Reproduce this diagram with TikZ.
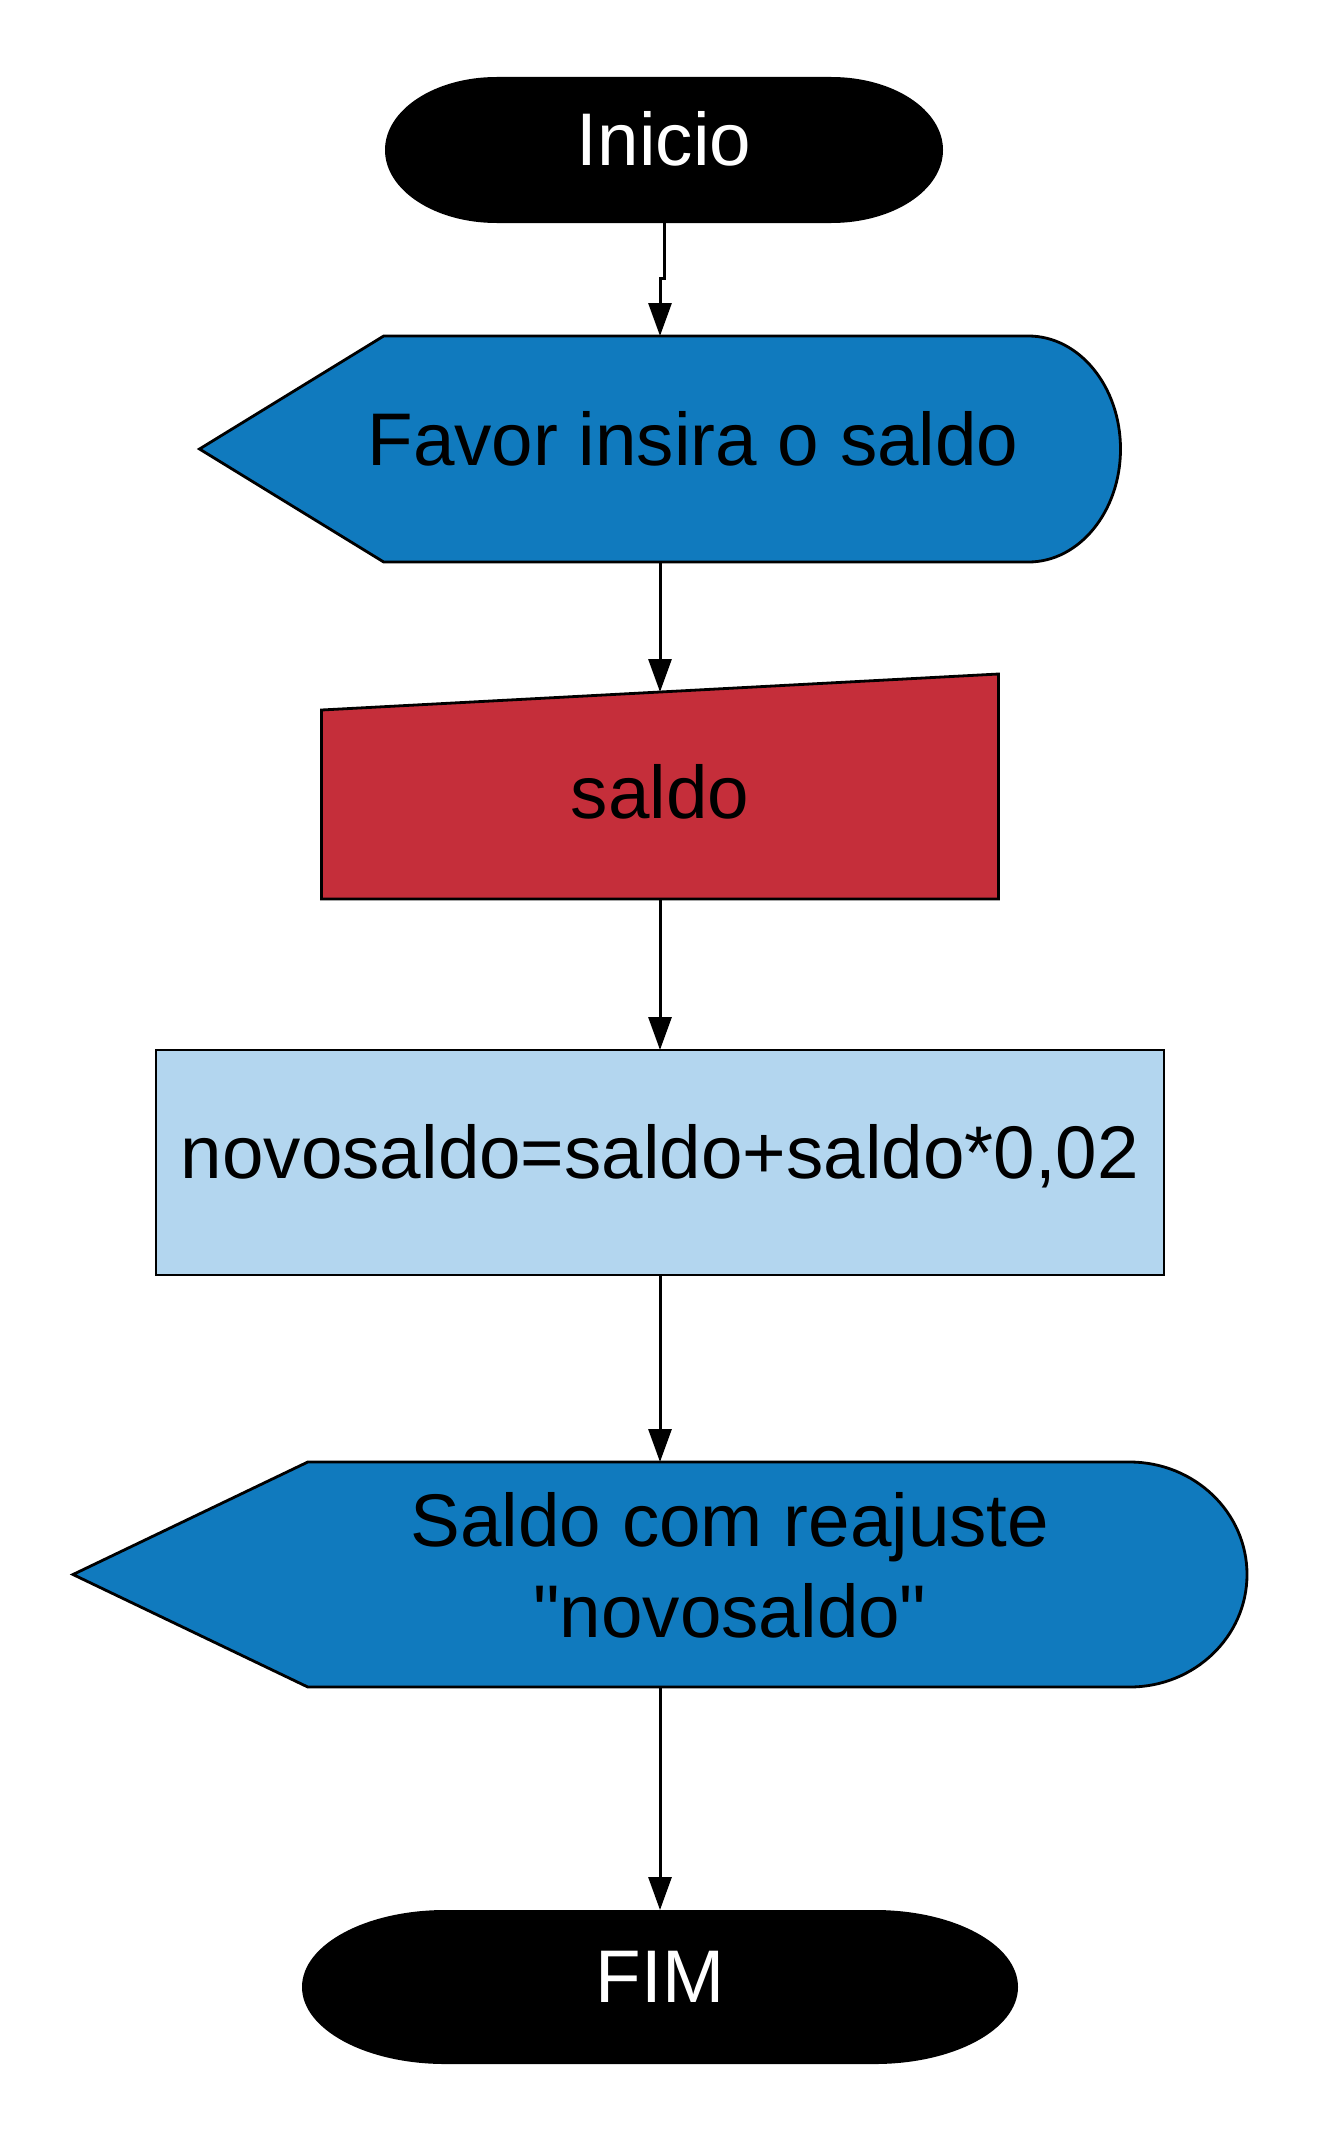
\documentclass[tikz,border=0pt]{standalone}
\usepackage{fontspec}
\setmainfont{Liberation Sans}[Ligatures=TeXOff]
\usetikzlibrary{arrows.meta,calc,backgrounds}
\definecolor{dispblue}{HTML}{107ABE}
\definecolor{inred}{HTML}{C52E3A}
\definecolor{proclight}{HTML}{B3D6EF}
\begin{document}
\begin{tikzpicture}[x=1pt,y=-1pt,
  big/.style={font=\fontsize{74.6}{91}\selectfont},
  shapebox/.style={inner sep=0pt, outer sep=0pt},
  termtext/.style={big, text=white, text height=53pt, text depth=22pt},
  lbl/.style={big, anchor=base, inner sep=0pt},
  outl/.style={draw=black, line width=2.8pt, line join=miter},
  arr/.style={line width=3pt, -{Triangle[length=33pt,width=23pt]}}]
\useasboundingbox (0,0) rectangle (1322,2138);

\node[shapebox, termtext, minimum width=558pt, minimum height=146pt] (inicio) at (664,150) {Inicio};
\node[shapebox, minimum width=921pt, minimum height=226pt] (favor) at (660,449) {};
\node[shapebox, minimum width=677pt, minimum height=225pt] (saldoin) at (660,786.5) {};
\node[shapebox, big, outl, fill=proclight, text height=53pt, text depth=22pt,
      minimum width=1008pt, minimum height=225pt] (proc) at (660,1162.5) {novosaldo=saldo+saldo*0,02};
\node[shapebox, minimum width=1174pt, minimum height=225pt] (disp2) at (660,1574.5) {};
\node[shapebox, termtext, minimum width=716pt, minimum height=154pt] (fim) at (660,1987) {FIM};

\begin{scope}[on background layer]
  \fill[white] (0,0) rectangle (1322,2138);
  \fill[black] ($(inicio.north west)+(111.6,0)$) -- ($(inicio.north east)+(-111.6,0)$)
     arc[start angle=90,end angle=-90,x radius=111.6pt,y radius=73pt]
     -- ($(inicio.south west)+(111.6,0)$)
     arc[start angle=270,end angle=90,x radius=111.6pt,y radius=73pt] -- cycle;
  \fill[black] ($(fim.north west)+(143.2,0)$) -- ($(fim.north east)+(-143.2,0)$)
     arc[start angle=90,end angle=-90,x radius=143.2pt,y radius=77pt]
     -- ($(fim.south west)+(143.2,0)$)
     arc[start angle=270,end angle=90,x radius=143.2pt,y radius=77pt] -- cycle;
  \filldraw[outl, fill=dispblue] (favor.west) -- ($(favor.north west)+(184.2,0)$)
     -- ($(favor.north east)+(-92.1,0)$)
     arc[start angle=90,end angle=-90,x radius=92.1pt,y radius=113pt]
     -- ($(favor.south west)+(184.2,0)$) -- cycle;
  \filldraw[outl, fill=inred] ($(saldoin.north west)+(0,36)$) -- (saldoin.north east)
     -- (saldoin.south east) -- (saldoin.south west) -- cycle;
  \filldraw[outl, fill=dispblue] (disp2.west) -- ($(disp2.north west)+(234.8,0)$)
     -- ($(disp2.north east)+(-117.4,0)$)
     arc[start angle=90,end angle=-90,x radius=117.4pt,y radius=112.5pt]
     -- ($(disp2.south west)+(234.8,0)$) -- cycle;
\end{scope}

\node[lbl] (favorT) at (693,465) {Favor insira o saldo};
\node[lbl] (saldoT) at (660,818) {saldo};
\node[big, align=center, inner sep=0pt] (disp2T) at (730,1565) {Saldo com reajuste\\"novosaldo"};

\coordinate (saldoinTop) at ($(saldoin.north)+(0,18)$);

\draw[arr] (inicio.south) -- (inicio.south |- 0,278) -| (favor.north);
\draw[arr] (favor.south) -- (saldoinTop);
\draw[arr] (saldoin.south) -- (proc.north);
\draw[arr] (proc.south) -- (disp2.north);
\draw[arr] (disp2.south) -- (fim.north);
\end{tikzpicture}
\end{document}
